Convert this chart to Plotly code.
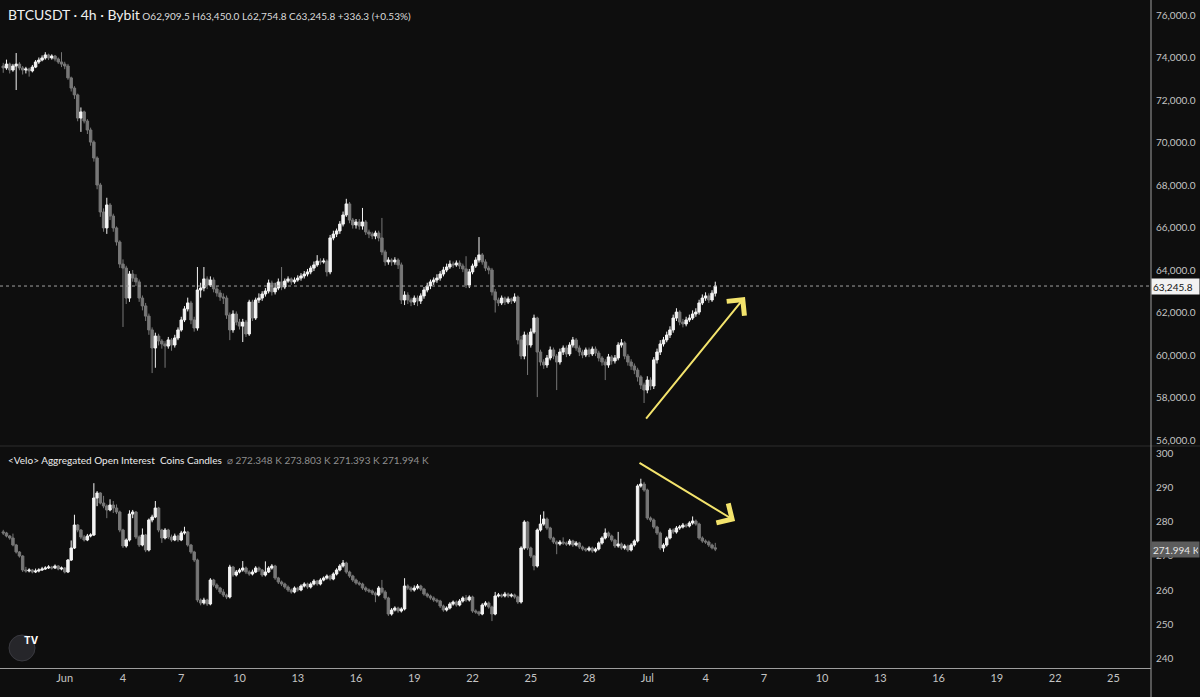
import pandas as pd
import plotly.graph_objects as go

# ---------------- data ----------------
candle_start = "2024-05-28 20:00"   # first 4h candle
candle_freq = "4h"

price_open = [73600,73510,73690,73410,73600,73690,73510,73410,73460,73370,73550,73790,73880,73980,74120,73980,74070,73930,73790,73690,
 73600,73040,72560,72240,71150,71440,71010,70590,70020,69270,68000,66730,65980,67060,66540,65980,65320,64280,64090,62680,
 63810,63620,63440,62680,62310,61830,61180,60330,60890,60660,60520,60420,60710,60470,60800,61180,61650,62170,62450,61650,
 61270,63060,63150,63580,63290,63530,63110,62920,62730,62680,61880,61180,61930,61550,61360,61550,60990,62490,61740,62590,
 62680,62870,63010,63390,62970,63150,63440,63200,63480,63580,63440,63530,63620,63720,63810,63910,64090,64240,64420,64380,
 64420,63910,65510,65690,65840,66160,66590,67110,66350,66120,66260,66070,66260,65790,65690,65600,65740,65510,64850,64380,
 64470,64380,64470,64240,62590,62820,62590,62490,62680,62540,62780,63060,63250,63440,63530,63620,63810,64000,64140,64280,
 64240,64330,64190,64050,63290,63910,64190,64470,64710,64380,64090,64000,62970,62590,62450,62680,62490,62640,62540,62730,
 60710,59950,60940,60470,61080,61740,60140,59670,59530,59860,60240,59950,59670,60140,60330,60050,60470,60710,60330,60140,
 60000,60240,60050,60280,60090,59860,59670,59530,59910,59720,59860,60470,60570,59950,59670,59480,59290,58970,58590,58350,
 58820,58540,59770,60140,60520,60710,60940,61180,61740,62020,61550,61460,61650,61740,61930,62020,62450,62680,62780,62590,
 62909.5]
price_high = [73750,73900,73760,73700,74210,73780,73600,73560,73520,73650,73880,74000,74100,74250,74180,74150,74120,74000,74250,73800,
 73700,73100,72650,72300,71650,71500,71100,70700,70100,69350,68100,66900,67400,67150,66650,66050,65400,64500,64200,63950,
 64000,63800,63550,62800,62450,61950,61300,61050,61000,60750,60650,60850,60800,60950,61300,61800,62300,62700,62550,61800,
 64140,63400,64140,63700,63700,63650,63250,63050,62900,62800,62000,62100,62050,61700,61700,61650,62600,62600,62700,62900,
 63000,63150,63550,63500,63400,63600,64140,63600,63700,63650,63650,63750,63850,63950,64050,64200,64400,64700,64550,64550,
 64500,65650,65850,65950,66300,66750,67350,67200,66450,66400,66400,66920,66350,65900,65800,65850,65850,66450,64950,64600,
 64550,64600,64550,64350,63000,62950,62700,62800,62800,62900,63200,63400,63550,63650,63800,63950,64150,64300,64450,64400,
 64450,64450,64300,64650,64050,64300,64600,65550,64800,64500,64200,64100,63100,62700,62800,62750,62750,62700,62900,62800,
 60900,61100,61050,61250,61900,61800,60250,59800,60000,60400,60350,60050,60300,60450,60450,60600,60850,60800,60450,60250,
 60350,60350,60400,60400,60200,59950,59800,60050,60000,60000,60600,60750,60650,60050,59800,59600,59400,59050,58700,59000,
 58950,59900,60300,60700,60850,61100,61350,61900,62200,62100,61700,61800,61900,62100,62200,62600,62850,62950,62900,63050,
 63450]
price_low = [73280,73420,73250,73330,72470,73400,73200,73250,73100,73300,73500,73700,73820,73900,73880,73900,73820,73700,73550,73450,
 72950,72400,72050,71000,70500,70900,70400,69850,69100,67800,66500,65800,65700,66350,65800,65150,64100,61320,62400,62500,
 63450,63250,62500,62100,61600,60950,59150,59400,60450,60300,59400,60300,60200,60350,60700,61100,61550,62050,61450,61100,
 61150,62700,63000,63100,63200,62950,62750,62550,62400,61700,60700,61050,61400,61200,60610,60850,60900,61600,61650,62450,
 62550,62750,62900,62800,62850,63050,63050,63100,63400,63300,63350,63450,63500,63600,63700,63800,63950,64150,64250,64300,
 63700,63800,65400,65550,65700,66050,66500,66200,65950,65950,65900,65900,65650,65500,65450,65450,65350,64700,64200,64250,
 64200,64250,64050,62400,62350,62400,62300,62350,62300,62400,62650,62950,63100,63300,63400,63500,63700,63900,64050,64100,
 64150,64050,63900,63150,63150,63800,64100,64350,64250,63950,63800,62800,62000,62300,62350,62350,62400,62400,62450,60500,
 59800,59800,59060,60350,61000,58020,59500,59350,59400,59750,59800,58350,59550,60000,59900,59950,60350,60200,59950,59850,
 59900,59900,59950,59950,59700,59500,58820,59400,59550,59600,59750,60350,59800,59500,59300,59100,58750,58400,57740,58200,
 58350,58400,59600,60000,60400,60600,60800,61050,61600,61400,61300,61350,61550,61650,61800,61900,62350,62550,62450,62500,
 62754.8]
price_close = [73510,73690,73410,73600,73690,73510,73410,73460,73370,73550,73790,73880,73980,74120,73980,74070,73930,73790,73690,73600,
 73040,72560,72240,71150,71440,71010,70590,70020,69270,68000,66730,65980,67060,66540,65980,65320,64280,64090,62680,63810,
 63620,63440,62680,62310,61830,61180,60330,60890,60660,60520,60420,60710,60470,60800,61180,61650,62170,62450,61650,61270,
 63060,63150,63580,63290,63530,63110,62920,62730,62680,61880,61180,61930,61550,61360,61550,60990,62490,61740,62590,62680,
 62870,63010,63390,62970,63150,63440,63200,63480,63580,63440,63530,63620,63720,63810,63910,64090,64240,64420,64380,64420,
 63910,65510,65690,65840,66160,66590,67110,66350,66120,66260,66070,66260,65790,65690,65600,65740,65510,64850,64380,64470,
 64380,64470,64240,62590,62820,62590,62490,62680,62540,62780,63060,63250,63440,63530,63620,63810,64000,64140,64280,64240,
 64330,64190,64050,63290,63910,64190,64470,64710,64380,64090,64000,62970,62590,62450,62680,62490,62640,62540,62730,60710,
 59950,60940,60470,61080,61740,60140,59670,59530,59860,60240,59950,59670,60140,60330,60050,60470,60710,60330,60140,60000,
 60240,60050,60280,60090,59860,59670,59530,59910,59720,59860,60470,60570,59950,59670,59480,59290,58970,58590,58350,58820,
 58540,59770,60140,60520,60710,60940,61180,61740,62020,61550,61460,61650,61740,61930,62020,62450,62680,62780,62590,62909.5,
 63245.8]

oi_open = [277.00,276.68,275.80,275.22,273.18,271.14,269.97,265.89,265.60,265.89,265.31,265.60,265.89,266.18,266.47,266.76,266.47,267.05,266.18,266.47,
 265.31,268.80,272.30,279.01,277.55,275.51,274.64,275.80,276.09,286.88,288.34,285.42,284.55,283.38,284.84,283.96,282.80,277.55,272.89,274.64,
 282.22,282.80,275.51,273.18,276.09,271.72,280.47,281.34,283.96,277.55,275.22,277.55,275.51,274.64,275.80,274.64,276.68,276.97,273.18,271.14,
 268.80,257.14,256.27,257.14,255.98,262.97,261.52,260.64,259.47,258.60,258.02,266.76,264.43,265.31,265.89,266.47,265.31,264.72,265.31,266.47,
 265.89,264.43,265.31,266.47,267.05,263.56,262.39,261.81,260.93,260.06,259.47,260.64,260.06,261.22,261.81,260.93,261.81,262.68,261.81,262.97,
 263.56,264.14,263.26,264.72,265.89,267.05,267.93,265.31,264.14,262.97,262.10,261.81,260.64,260.06,259.77,259.18,258.60,260.64,259.47,257.73,
 253.06,254.23,254.81,253.94,254.52,261.22,260.64,260.06,260.64,261.22,260.35,258.89,258.31,257.73,257.14,256.85,255.39,254.23,254.81,255.98,
 256.56,255.68,256.85,257.73,257.14,258.02,253.94,253.64,253.06,255.68,256.27,255.10,253.06,258.31,258.60,258.31,258.89,258.31,258.60,258.02,
 256.56,272.30,279.88,272.30,269.97,267.05,277.55,279.30,280.76,278.13,275.22,274.05,273.47,274.05,273.76,273.47,274.34,273.18,273.76,272.59,
 272.01,271.72,272.30,271.43,272.01,273.76,275.22,276.68,275.80,274.64,272.89,273.47,272.30,272.89,271.72,273.18,274.34,290.38,290.96,289.21,
 281.05,280.47,278.43,276.68,272.30,273.18,275.22,277.55,276.97,278.13,278.43,279.01,278.72,279.59,280.17,279.30,275.22,274.34,274.05,273.18,
 272.348]
oi_high = [277.60,277.00,276.10,276.50,273.50,271.40,270.20,266.80,266.40,266.20,266.30,266.40,266.80,267.00,267.30,267.10,267.50,267.30,266.90,266.70,
 269.10,274.50,282.00,279.30,277.80,276.10,276.40,276.60,291.20,288.90,288.60,287.50,285.00,286.50,286.00,285.00,283.20,277.90,275.10,283.30,
 283.40,283.10,276.00,278.00,276.40,280.90,282.00,286.00,284.30,277.90,278.10,277.90,276.20,276.50,276.20,277.30,278.50,277.30,273.50,271.50,
 269.20,257.60,257.80,257.50,263.50,263.30,262.00,261.00,260.30,259.00,267.40,267.10,265.90,266.40,268.50,266.90,265.80,266.00,267.00,266.90,
 266.20,268.40,267.00,267.60,267.40,263.90,262.80,262.20,261.40,260.50,261.10,261.00,261.70,262.30,262.20,262.30,263.20,263.00,263.50,264.00,
 264.60,264.50,265.20,266.40,267.60,268.80,268.30,265.70,264.50,263.40,262.60,262.20,261.10,260.50,260.20,259.60,261.20,263.00,260.00,258.10,
 254.80,255.30,255.20,255.00,263.50,261.70,261.10,261.40,261.80,261.60,260.70,259.30,258.70,258.20,257.60,257.20,255.80,255.30,256.50,257.00,
 257.00,257.40,258.20,258.60,258.50,258.40,254.40,254.00,256.20,256.80,256.70,255.50,259.50,259.20,259.00,259.50,259.30,259.10,259.00,258.40,
 272.80,280.40,280.20,272.70,270.30,278.00,282.00,283.00,281.20,278.50,275.60,274.50,274.60,275.40,274.20,274.90,274.70,274.30,274.10,273.00,
 272.40,272.80,272.70,272.50,274.20,275.70,278.00,277.10,276.20,275.00,277.00,273.90,273.40,273.30,273.70,274.80,290.90,292.50,291.60,289.60,
 281.50,280.90,278.80,277.10,273.70,275.70,278.10,278.00,278.70,279.00,279.60,279.40,280.10,281.50,280.60,279.70,275.70,274.80,274.50,273.60,
 273.803]
oi_low = [276.10,275.40,274.70,272.80,270.70,269.50,265.30,265.10,265.20,264.90,265.00,265.20,265.60,265.90,266.20,266.00,266.20,265.80,265.80,264.90,
 265.00,268.50,272.00,276.90,274.90,274.20,274.30,275.40,275.80,284.50,285.00,283.90,281.00,283.00,282.50,282.20,276.90,272.30,272.40,274.20,
 281.00,274.90,272.60,272.80,271.10,271.30,279.80,281.00,276.90,273.80,274.80,274.90,274.10,274.30,274.10,274.30,276.20,272.70,270.60,268.20,
 256.50,255.60,255.80,255.40,255.60,261.00,260.10,258.90,258.00,257.40,257.60,263.90,264.00,264.90,265.40,264.70,264.20,264.30,265.00,265.30,
 263.90,264.00,265.00,266.00,263.00,261.80,261.20,260.40,259.50,259.00,259.10,259.60,259.70,260.80,260.40,260.50,261.40,261.30,261.40,262.60,
 263.10,262.80,262.90,264.30,265.50,266.60,264.80,263.60,262.40,261.60,261.30,260.10,259.50,259.20,258.60,256.50,258.20,259.00,257.20,252.50,
 252.60,253.80,253.40,253.50,254.10,260.10,259.50,259.60,260.20,259.80,258.40,257.80,257.20,256.60,256.30,254.80,253.70,253.80,254.40,255.50,
 255.20,255.30,256.40,256.60,256.70,253.40,253.10,252.50,252.70,255.20,254.60,251.00,252.70,257.90,257.80,257.90,257.80,257.90,257.50,256.00,
 256.10,271.80,271.70,269.40,265.80,266.60,277.10,278.80,277.60,274.70,273.50,270.50,273.00,273.20,272.90,273.00,272.60,272.80,272.00,271.50,
 271.20,271.30,270.90,271.00,271.60,273.30,274.80,275.30,274.10,272.30,272.40,271.80,271.80,271.20,271.30,272.70,273.90,289.90,288.70,280.50,
 279.90,277.90,276.10,271.70,271.20,272.70,274.80,276.40,276.50,277.60,278.00,278.20,278.30,279.10,278.80,274.70,273.80,273.50,272.60,271.90,
 271.393]
oi_close = [276.68,275.80,275.22,273.18,271.14,269.97,265.89,265.60,265.89,265.31,265.60,265.89,266.18,266.47,266.76,266.47,267.05,266.18,266.47,265.31,
 268.80,272.30,279.01,277.55,275.51,274.64,275.80,276.09,286.88,288.34,285.42,284.55,283.38,284.84,283.96,282.80,277.55,272.89,274.64,282.22,
 282.80,275.51,273.18,276.09,271.72,280.47,281.34,283.96,277.55,275.22,277.55,275.51,274.64,275.80,274.64,276.68,276.97,273.18,271.14,268.80,
 257.14,256.27,257.14,255.98,262.97,261.52,260.64,259.47,258.60,258.02,266.76,264.43,265.31,265.89,266.47,265.31,264.72,265.31,266.47,265.89,
 264.43,265.31,266.47,267.05,263.56,262.39,261.81,260.93,260.06,259.47,260.64,260.06,261.22,261.81,260.93,261.81,262.68,261.81,262.97,263.56,
 264.14,263.26,264.72,265.89,267.05,267.93,265.31,264.14,262.97,262.10,261.81,260.64,260.06,259.77,259.18,258.60,260.64,259.47,257.73,253.06,
 254.23,254.81,253.94,254.52,261.22,260.64,260.06,260.64,261.22,260.35,258.89,258.31,257.73,257.14,256.85,255.39,254.23,254.81,255.98,256.56,
 255.68,256.85,257.73,257.14,258.02,253.94,253.64,253.06,255.68,256.27,255.10,253.06,258.31,258.60,258.31,258.89,258.31,258.60,258.02,256.56,
 272.30,279.88,272.30,269.97,267.05,277.55,279.30,280.76,278.13,275.22,274.05,273.47,274.05,273.76,273.47,274.34,273.18,273.76,272.59,272.01,
 271.72,272.30,271.43,272.01,273.76,275.22,276.68,275.80,274.64,272.89,273.47,272.30,272.89,271.72,273.18,274.34,290.38,290.96,289.21,281.05,
 280.47,278.43,276.68,272.30,273.18,275.22,277.55,276.97,278.13,278.43,279.01,278.72,279.59,280.17,279.30,275.22,274.34,274.05,273.18,272.348,
 271.994]

x_tick_dates = ["2024-06-01","2024-06-04","2024-06-07","2024-06-10","2024-06-13","2024-06-16","2024-06-19","2024-06-22","2024-06-25","2024-06-28",
                "2024-07-01","2024-07-04","2024-07-07","2024-07-10","2024-07-13","2024-07-16","2024-07-19","2024-07-22","2024-07-25"]
x_tick_labels = ["Jun","4","7","10","13","16","19","22","25","28","Jul","4","7","10","13","16","19","22","25"]
price_ticks = [56000,58000,60000,62000,64000,66000,68000,70000,72000,74000,76000]
oi_ticks = [240,250,260,270,280,290,300]

header_title = "BTCUSDT · 4h · Bybit"
header_ohlc = "O62,909.5 H63,450.0 L62,754.8 C63,245.8 +336.3 (+0.53%)"
oi_title = "&lt;Velo&gt; Aggregated Open Interest  Coins Candles"
oi_values = "⌀ 272.348 K 273.803 K 271.393 K 271.994 K"

# annotation arrows (tail -> head)
price_arrow = {"tail": ("2024-06-30 21:00", 56940), "head": ("2024-07-06 00:45", 62730)}
oi_arrow = {"tail": ("2024-06-30 12:30", 297.4), "head": ("2024-07-05 12:30", 280.2)}

# ---------------- figure ----------------
times = pd.date_range(candle_start, periods=len(price_close), freq=candle_freq)

BG = "#0e0e0e"
UP = "#f4f4f4"
DOWN = "#777777"
AXIS_TXT = "#c4c4c4"
FONT = "Lato"

fig = go.Figure()
fig.add_trace(go.Candlestick(
    x=times, open=price_open, high=price_high, low=price_low, close=price_close,
    xaxis="x", yaxis="y",
    increasing=dict(line=dict(color=UP, width=1), fillcolor=UP),
    decreasing=dict(line=dict(color=DOWN, width=1), fillcolor=DOWN),
    whiskerwidth=0, showlegend=False, hoverinfo="skip"))
fig.add_trace(go.Candlestick(
    x=times, open=oi_open, high=oi_high, low=oi_low, close=oi_close,
    xaxis="x", yaxis="y2",
    increasing=dict(line=dict(color=UP, width=1), fillcolor=UP),
    decreasing=dict(line=dict(color=DOWN, width=1), fillcolor=DOWN),
    whiskerwidth=0, showlegend=False, hoverinfo="skip"))

split = 1 - 446 / 668

fig.update_layout(
    width=1200, height=697,
    margin=dict(l=0, r=49, t=0, b=29),
    paper_bgcolor=BG, plot_bgcolor=BG,
    font=dict(family=FONT, color=AXIS_TXT, size=11),
    boxgap=0.25, boxgroupgap=0,
    showlegend=False,
    xaxis=dict(
        type="date", anchor="y2", domain=[0, 1],
        range=["2024-05-28 16:00", "2024-07-26 22:30"],
        rangeslider=dict(visible=False),
        tickvals=x_tick_dates, ticktext=x_tick_labels,
        showgrid=False, zeroline=False, ticks="",
        showline=True, linecolor="#9e9e9e", linewidth=1,
        tickfont=dict(family=FONT, size=11, color=AXIS_TXT),
    ),
    yaxis=dict(
        domain=[split, 1], anchor="x", side="right",
        range=[55718, 76706], tickvals=price_ticks, tickformat=",.1f",
        showgrid=False, zeroline=False, ticks="",
        ticklabelstandoff=4,
        tickfont=dict(family=FONT, size=10, color=AXIS_TXT),
    ),
    yaxis2=dict(
        domain=[0, split], anchor="x", side="right",
        range=[237.32, 302.04], tickvals=oi_ticks, tickformat="d", ticksuffix=" K",
        showgrid=False, zeroline=False, ticks="",
        ticklabelstandoff=4,
        tickfont=dict(family=FONT, size=10, color=AXIS_TXT),
    ),
)

shapes = [
    # pane separator
    dict(type="line", xref="paper", yref="paper", x0=0, x1=1.05, y0=split, y1=split,
         line=dict(color="#2c2c2c", width=1)),
    # right axis border
    dict(type="line", xref="paper", yref="paper", x0=1, x1=1, y0=-29 / 668, y1=1,
         line=dict(color="#9e9e9e", width=1)),
    # last price dotted line
    dict(type="line", xref="paper", yref="y", x0=0, x1=1, y0=price_close[-1], y1=price_close[-1],
         line=dict(color="#a0a0a0", width=1, dash="dot")),
    # logo circle
    dict(type="circle", xref="paper", yref="paper",
         x0=9 / 1151, x1=35 / 1151, y0=(668 - 661) / 668, y1=(668 - 635) / 668,
         fillcolor="#26262a", line=dict(color="#3a3a40", width=1)),
]
fig.update_layout(shapes=shapes)

ann = [
    dict(xref="paper", yref="paper", x=6 / 1151, y=1 - 15 / 668, xanchor="left", yanchor="middle",
         showarrow=False, align="left",
         text=(f"<span style='font-size:14px;color:#f0f0f0'>{header_title}</span>"
               f"<span style='font-size:10px;color:#dcdcdc'> {header_ohlc}</span>")),
    dict(xref="paper", yref="paper", x=6 / 1151, y=1 - 460 / 668, xanchor="left", yanchor="middle",
         showarrow=False, align="left",
         text=(f"<span style='font-size:10px;color:#ededed'>{oi_title}</span>"
               f"<span style='font-size:10px;color:#8e8e8e'>  {oi_values}</span>")),
    # last price label
    dict(xref="paper", yref="y", x=1, y=price_close[-1], xanchor="left", yanchor="middle",
         showarrow=False, text=f"{price_close[-1]:,.1f}", bgcolor="#f2f2f2",
         font=dict(family=FONT, size=10, color="#131313"), width=45, height=13, borderpad=1, align="left"),
    # last OI label
    dict(xref="paper", yref="y2", x=1, y=oi_close[-1], xanchor="left", yanchor="middle",
         showarrow=False, text=f"{oi_close[-1]:.3f} K", bgcolor="#5c5c5c",
         font=dict(family=FONT, size=10, color="#e6e6e6"), width=45, height=13, borderpad=1, align="left"),
    # logo text
    dict(xref="paper", yref="paper", x=22 / 1151, y=(668 - 648) / 668, showarrow=False,
         text="<b>TV</b>", font=dict(family="Inter", size=10, color="#ffffff")),
    # arrows
    dict(xref="x", yref="y", axref="x", ayref="y",
         x=price_arrow["head"][0], y=price_arrow["head"][1],
         ax=price_arrow["tail"][0], ay=price_arrow["tail"][1],
         showarrow=True, arrowhead=4, arrowsize=2.2, arrowwidth=2, arrowcolor="#f3e36c", text=""),
    dict(xref="x", yref="y2", axref="x", ayref="y2",
         x=oi_arrow["head"][0], y=oi_arrow["head"][1],
         ax=oi_arrow["tail"][0], ay=oi_arrow["tail"][1],
         showarrow=True, arrowhead=4, arrowsize=2.2, arrowwidth=2, arrowcolor="#f3e36c", text=""),
]
fig.update_layout(annotations=ann)

fig.write_html("out.html")
